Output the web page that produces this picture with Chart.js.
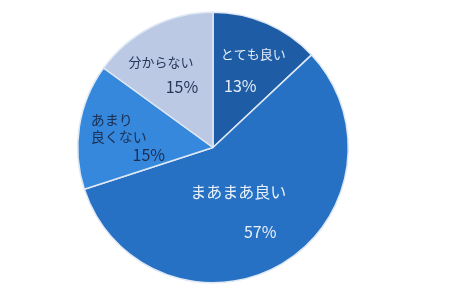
<!DOCTYPE html>
<html>
<head>
<meta charset="utf-8">
<script src="https://cdn.jsdelivr.net/npm/chart.js@4/dist/chart.umd.min.js"></script>
<style>
  html, body { margin: 0; padding: 0; background: #fff; }
</style>
</head>
<body>
<canvas id="myChart" width="450" height="304"></canvas>
<script>
var labels = ['とても良い', 'まあまあ良い', 'あまり良くない', '分からない']
var values = [13, 57, 15, 15]
var colors = ['#1f5ca6', '#2671c3', '#3588db', '#bcc9e5']

// how each slice's label is laid out: [text, dx, dy, font size, align]
var labelStyle = [
  { frac: 0.62, color: '#e4edf8', lines: [['label', 7, -16, 13, 'center'], ['pct', -6, 15, 16, 'center']] },
  { frac: 0.54, color: '#e8f0fa', lines: [['label', -12, -18, 16, 'center'], ['pct', 10, 22, 16, 'center']] },
  { frac: 0.69, color: '#1b2f55', lines: [['あまり', -30, -13, 14, 'left'], ['良くない', -30, 4, 14, 'left'], ['pct', 28, 22, 16, 'center']] },
  { frac: 0.62, color: '#27365a', lines: [['label', -14, -11, 13, 'center'], ['pct', 7, 14, 16, 'center']] }
]

var sliceLabels = {
  id: 'sliceLabels',
  afterDatasetsDraw: function (chart) {
    var ctx = chart.ctx
    var meta = chart.getDatasetMeta(0)
    meta.data.forEach(function (arc, i) {
      var st = labelStyle[i]
      var mid = (arc.startAngle + arc.endAngle) / 2
      var r = arc.outerRadius * st.frac
      var ax = arc.x + Math.cos(mid) * r
      var ay = arc.y + Math.sin(mid) * r
      ctx.save()
      ctx.fillStyle = st.color
      ctx.textBaseline = 'middle'
      st.lines.forEach(function (ln) {
        var txt = ln[0]
        if (txt === 'label') txt = labels[i]
        else if (txt === 'pct') txt = values[i] + '%'
        ctx.font = ln[3] + 'px "Noto Sans CJK JP"'
        ctx.textAlign = ln[4]
        ctx.fillText(txt, ax + ln[1], ay + ln[2])
      })
      ctx.restore()
    })
  }
}

var ctx = document.getElementById('myChart')
var myPieChart = new Chart(ctx, {
  type: 'pie',
  data: {
    labels: labels,
    datasets: [
      {
        data: values,
        backgroundColor: colors,
        borderColor: '#dfe8f4',
        borderWidth: 1.5
      }
    ]
  },
  options: {
    responsive: false,
    animation: false,
    layout: { padding: { top: 11, bottom: 20, left: 77, right: 101 } },
    plugins: {
      legend: { display: false },
      tooltip: { enabled: false }
    }
  },
  plugins: [sliceLabels]
})
</script>
</body>
</html>
